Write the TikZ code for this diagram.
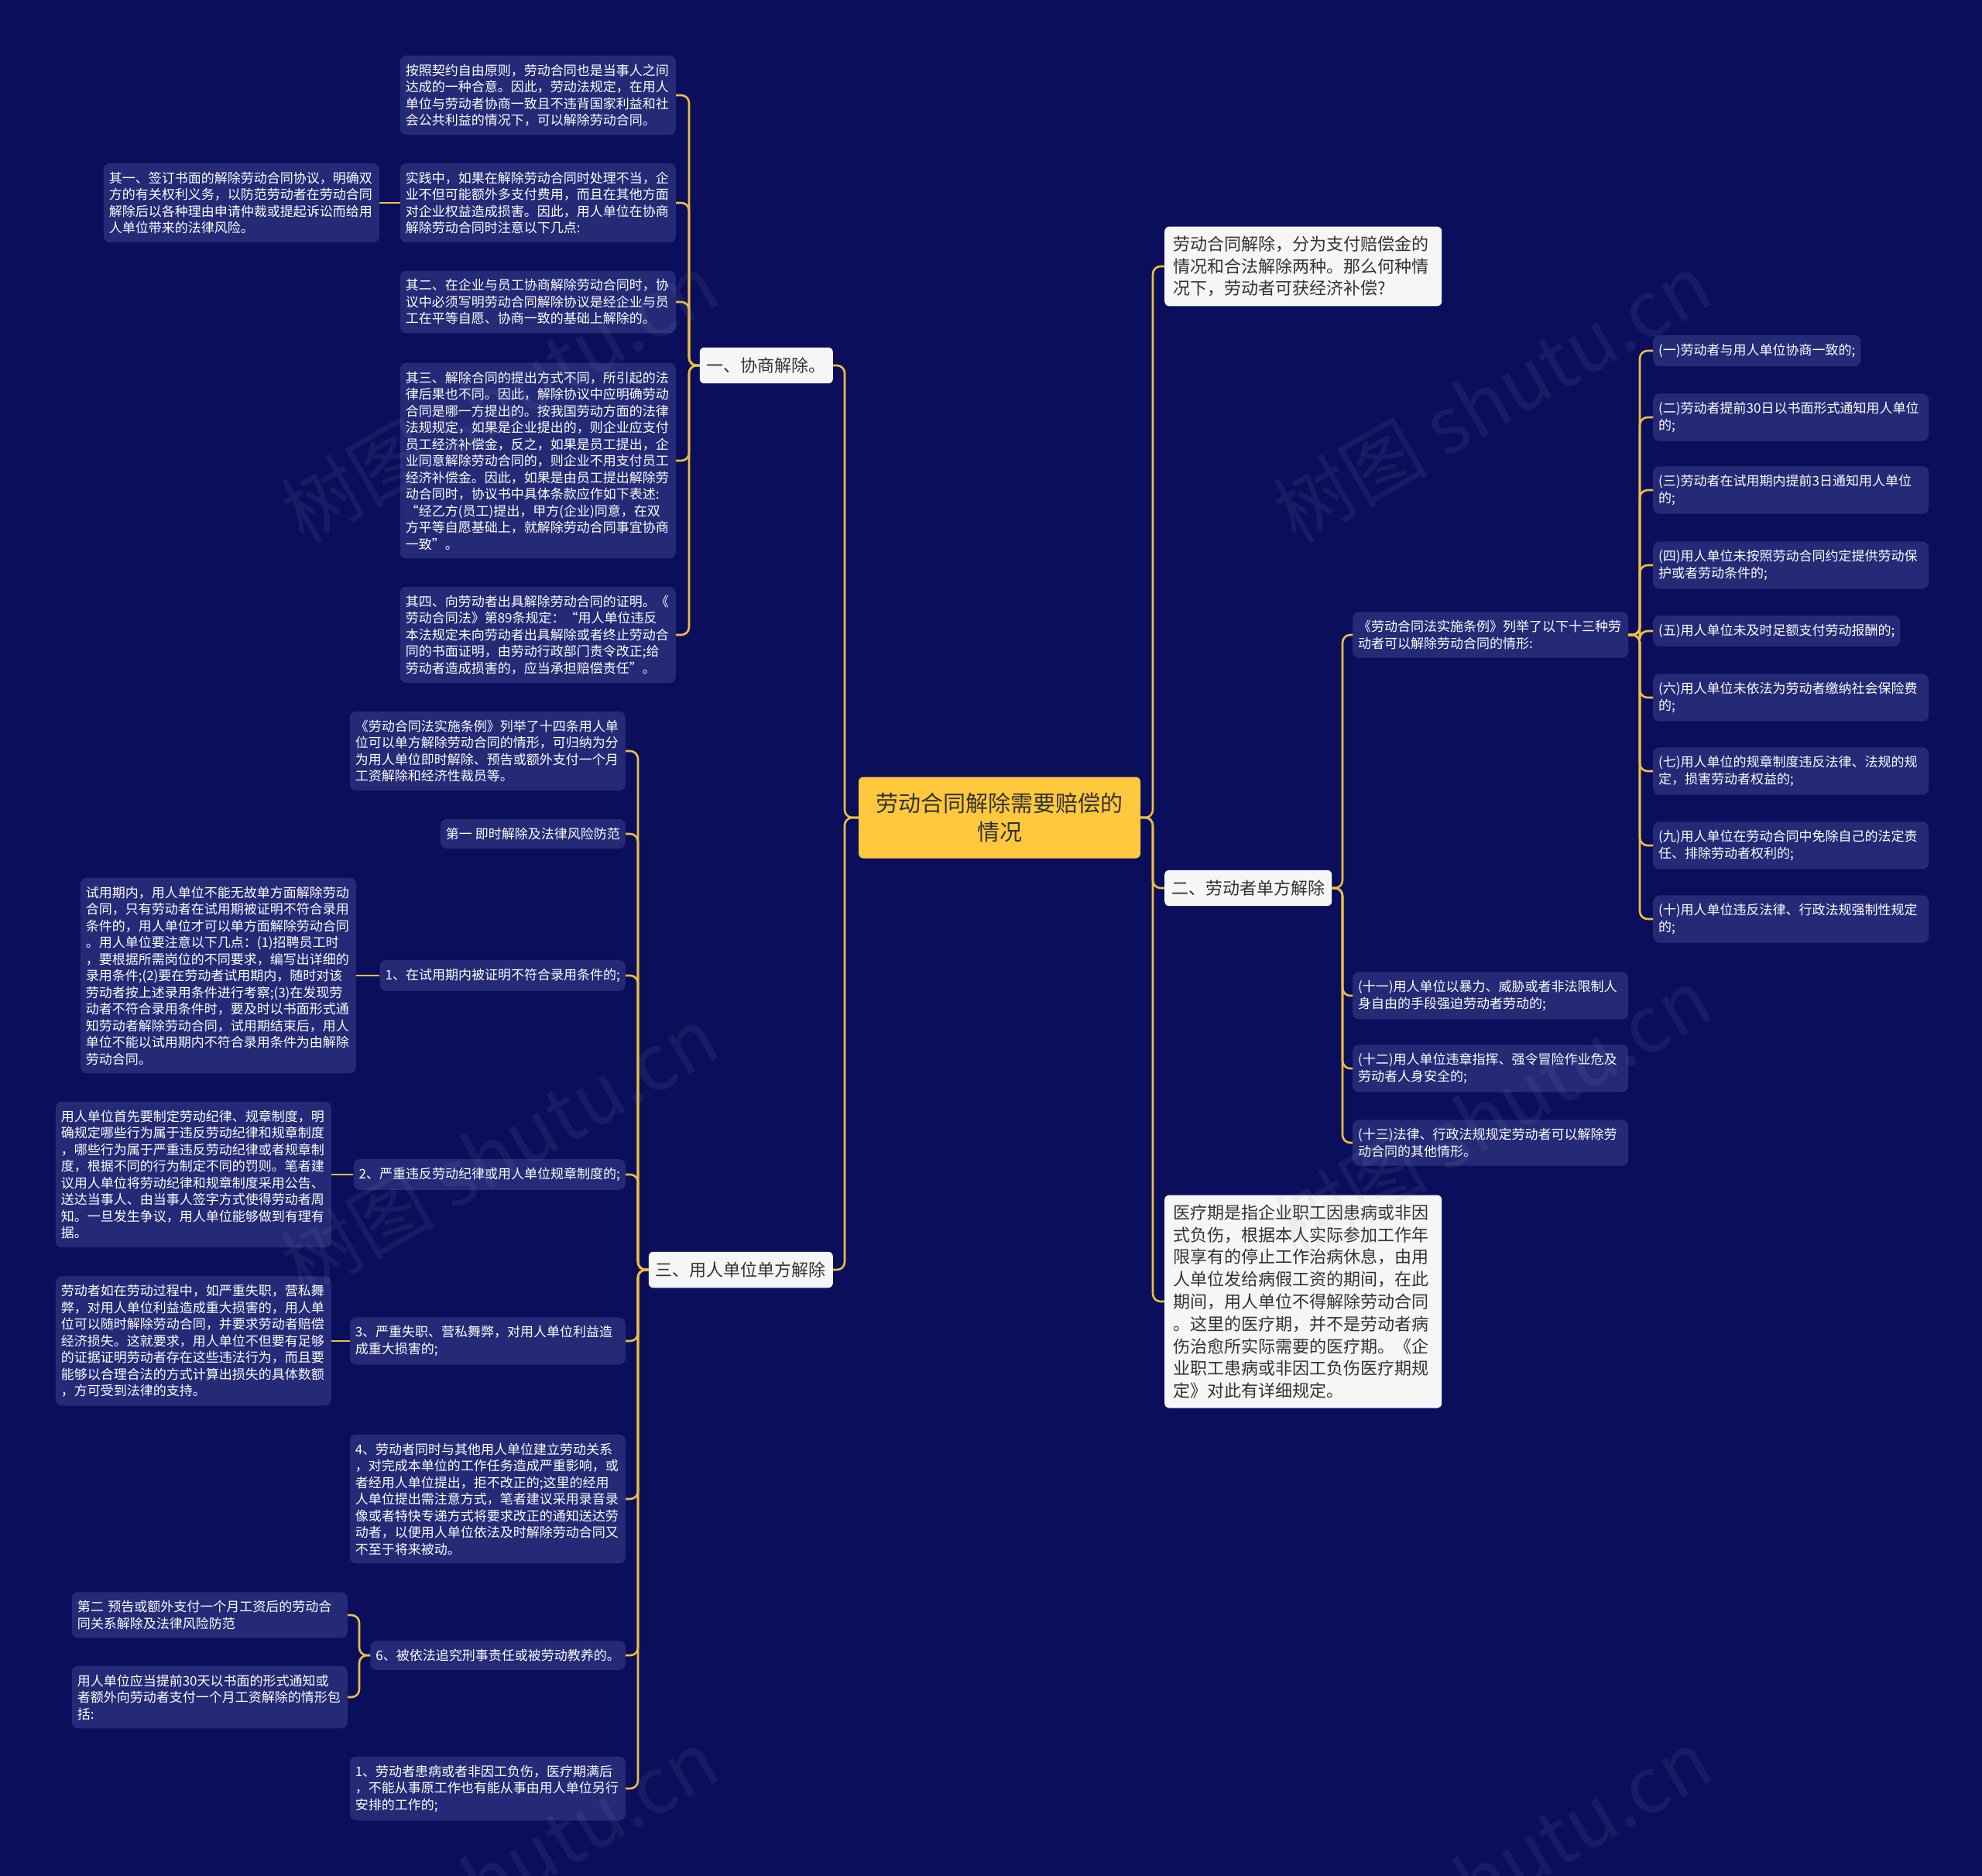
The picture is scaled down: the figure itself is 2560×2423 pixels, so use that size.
\documentclass[tikz,border=0pt]{standalone}
\usepackage{fontspec}
\setmainfont{Noto Sans CJK SC}
\definecolor{bg}{HTML}{0B0F5B}
\definecolor{boxc}{HTML}{242A76}
\definecolor{linec}{HTML}{EDBE45}
\definecolor{ctrc}{HTML}{FFC83D}
\definecolor{wbox}{HTML}{F6F6F6}
\definecolor{dtext}{HTML}{333333}
\definecolor{wmc}{HTML}{9098C0}
\tikzset{
  leaf/.style={rectangle, rounded corners=8bp, fill=boxc, text=white, font=\fontsize{17bp}{21.5bp}\selectfont, align=left, inner xsep=7bp, inner ysep=11bp},
  leafw/.style={leaf, text width=342bp},
  lvone/.style={rectangle, rounded corners=6bp, fill=wbox, text=dtext, font=\fontsize{22bp}{28.8bp}\selectfont, inner xsep=9bp, inner ysep=13bp},
  lvbig/.style={lvone, align=left, text width=336bp, inner xsep=11bp, inner ysep=12bp},
  ctrbox/.style={rectangle, rounded corners=6bp, fill=ctrc, text=dtext, font=\fontsize{29bp}{37bp}\selectfont, align=center, minimum width=364bp, minimum height=105bp},
  conn/.style={draw=linec, line width=2.6bp, rounded corners=10bp},
  wm/.style={text=wmc, opacity=0.10, font=\fontsize{100bp}{100bp}\selectfont, rotate=30},
}
\begin{document}
\begin{tikzpicture}[x=1bp,y=-1bp]
\useasboundingbox (0,0) rectangle (2560,2423);
\clip (0,0) rectangle (2560,2423);
\path[fill=bg] (0,0) rectangle (2560,2423);

% trunks
\coordinate (tCL) at (1091,0);
\coordinate (tCR) at (1489,0);
\coordinate (tXS) at (890,0);
\coordinate (tYR) at (824,0);
\coordinate (tLD) at (1734,0);
\coordinate (tTL) at (2118,0);
\coordinate (tS6) at (464,0);

% center
\node[ctrbox] (ctr) at (1291,1056) {劳动合同解除需要赔偿的\\情况};

% level 1 left
\node[lvone, anchor=east] (xs) at (1076,472) {一、协商解除。};
\node[lvone, anchor=east] (yr) at (1076,1640) {三、用人单位单方解除};

% level 1 right
\node[lvbig, anchor=west] (q) at (1504,344) {劳动合同解除，分为支付赔偿金的\\情况和合法解除两种。那么何种情\\况下，劳动者可获经济补偿?};
\node[lvone, anchor=west] (ld) at (1504,1147) {二、劳动者单方解除};
\node[lvbig, anchor=west] (yl) at (1504,1681) {医疗期是指企业职工因患病或非因\\式负伤，根据本人实际参加工作年\\限享有的停止工作治病休息，由用\\人单位发给病假工资的期间，在此\\期间，用人单位不得解除劳动合同\\。这里的医疗期，并不是劳动者病\\伤治愈所实际需要的医疗期。《企\\业职工患病或非因工负伤医疗期规\\定》对此有详细规定。};

% 协商解除 children
\node[leafw, anchor=east] (xa) at (873,123) {按照契约自由原则，劳动合同也是当事人之间\\达成的一种合意。因此，劳动法规定，在用人\\单位与劳动者协商一致且不违背国家利益和社\\会公共利益的情况下，可以解除劳动合同。};
\node[leafw, anchor=east] (xb) at (873,262) {实践中，如果在解除劳动合同时处理不当，企\\业不但可能额外多支付费用，而且在其他方面\\对企业权益造成损害。因此，用人单位在协商\\解除劳动合同时注意以下几点:};
\node[leafw, anchor=east] (xb1) at (490,262) {其一、签订书面的解除劳动合同协议，明确双\\方的有关权利义务，以防范劳动者在劳动合同\\解除后以各种理由申请仲裁或提起诉讼而给用\\人单位带来的法律风险。};
\node[leafw, anchor=east] (xc) at (873,390) {其二、在企业与员工协商解除劳动合同时，协\\议中必须写明劳动合同解除协议是经企业与员\\工在平等自愿、协商一致的基础上解除的。};
\node[leafw, anchor=east] (xd) at (873,595) {其三、解除合同的提出方式不同，所引起的法\\律后果也不同。因此，解除协议中应明确劳动\\合同是哪一方提出的。按我国劳动方面的法律\\法规规定，如果是企业提出的，则企业应支付\\员工经济补偿金，反之，如果是员工提出，企\\业同意解除劳动合同的，则企业不用支付员工\\经济补偿金。因此，如果是由员工提出解除劳\\动合同时，协议书中具体条款应作如下表述:\\“经乙方(员工)提出，甲方(企业)同意，在双\\方平等自愿基础上，就解除劳动合同事宜协商\\一致”。};
\node[leafw, anchor=east] (xe) at (873,820) {其四、向劳动者出具解除劳动合同的证明。《\\劳动合同法》第89条规定：“用人单位违反\\本法规定未向劳动者出具解除或者终止劳动合\\同的书面证明，由劳动行政部门责令改正;给\\劳动者造成损害的，应当承担赔偿责任”。};

% 用人单位单方解除 children
\node[leafw, anchor=east] (y1) at (808,970) {《劳动合同法实施条例》列举了十四条用人单\\位可以单方解除劳动合同的情形，可归纳为分\\为用人单位即时解除、预告或额外支付一个月\\工资解除和经济性裁员等。};
\node[leaf, anchor=east] (y2) at (808,1077) {第一 即时解除及法律风险防范};
\node[leaf, anchor=east] (y3) at (808,1260) {1、在试用期内被证明不符合录用条件的;};
\node[leafw, anchor=east] (y3a) at (460,1260) {试用期内，用人单位不能无故单方面解除劳动\\合同，只有劳动者在试用期被证明不符合录用\\条件的，用人单位才可以单方面解除劳动合同\\。用人单位要注意以下几点：(1)招聘员工时\\，要根据所需岗位的不同要求，编写出详细的\\录用条件;(2)要在劳动者试用期内，随时对该\\劳动者按上述录用条件进行考察;(3)在发现劳\\动者不符合录用条件时，要及时以书面形式通\\知劳动者解除劳动合同，试用期结束后，用人\\单位不能以试用期内不符合录用条件为由解除\\劳动合同。};
\node[leaf, anchor=east] (y4) at (808,1517) {2、严重违反劳动纪律或用人单位规章制度的;};
\node[leafw, anchor=east] (y4a) at (428,1517) {用人单位首先要制定劳动纪律、规章制度，明\\确规定哪些行为属于违反劳动纪律和规章制度\\，哪些行为属于严重违反劳动纪律或者规章制\\度，根据不同的行为制定不同的罚则。笔者建\\议用人单位将劳动纪律和规章制度采用公告、\\送达当事人、由当事人签字方式使得劳动者周\\知。一旦发生争议，用人单位能够做到有理有\\据。};
\node[leafw, anchor=east] (y5) at (808,1732) {3、严重失职、营私舞弊，对用人单位利益造\\成重大损害的;};
\node[leafw, anchor=east] (y5a) at (428,1732) {劳动者如在劳动过程中，如严重失职，营私舞\\弊，对用人单位利益造成重大损害的，用人单\\位可以随时解除劳动合同，并要求劳动者赔偿\\经济损失。这就要求，用人单位不但要有足够\\的证据证明劳动者存在这些违法行为，而且要\\能够以合理合法的方式计算出损失的具体数额\\，方可受到法律的支持。};
\node[leafw, anchor=east] (y6) at (808,1936) {4、劳动者同时与其他用人单位建立劳动关系\\，对完成本单位的工作任务造成严重影响，或\\者经用人单位提出，拒不改正的;这里的经用\\人单位提出需注意方式，笔者建议采用录音录\\像或者特快专递方式将要求改正的通知送达劳\\动者，以便用人单位依法及时解除劳动合同又\\不至于将来被动。};
\node[leaf, anchor=east] (y7) at (808,2138) {6、被依法追究刑事责任或被劳动教养的。};
\node[leafw, anchor=east] (y7a) at (449,2086) {第二 预告或额外支付一个月工资后的劳动合\\同关系解除及法律风险防范};
\node[leafw, anchor=east] (y7b) at (449,2192) {用人单位应当提前30天以书面的形式通知或\\者额外向劳动者支付一个月工资解除的情形包\\括:};
\node[leafw, anchor=east] (y8) at (808,2310) {1、劳动者患病或者非因工负伤，医疗期满后\\，不能从事原工作也有能从事由用人单位另行\\安排的工作的;};

% 劳动者单方解除 children
\node[leafw, anchor=west] (l0) at (1747,820) {《劳动合同法实施条例》列举了以下十三种劳\\动者可以解除劳动合同的情形:};
\node[leafw, anchor=west] (l11) at (1747,1286) {(十一)用人单位以暴力、威胁或者非法限制人\\身自由的手段强迫劳动者劳动的;};
\node[leafw, anchor=west] (l12) at (1747,1380) {(十二)用人单位违章指挥、强令冒险作业危及\\劳动者人身安全的;};
\node[leafw, anchor=west] (l13) at (1747,1476) {(十三)法律、行政法规规定劳动者可以解除劳\\动合同的其他情形。};

% 条例 children
\node[leaf, anchor=west] (r1) at (2135,453) {(一)劳动者与用人单位协商一致的;};
\node[leafw, anchor=west] (r2) at (2135,539) {(二)劳动者提前30日以书面形式通知用人单位\\的;};
\node[leafw, anchor=west] (r3) at (2135,633) {(三)劳动者在试用期内提前3日通知用人单位\\的;};
\node[leafw, anchor=west] (r4) at (2135,730) {(四)用人单位未按照劳动合同约定提供劳动保\\护或者劳动条件的;};
\node[leaf, anchor=west] (r5) at (2135,815) {(五)用人单位未及时足额支付劳动报酬的;};
\node[leafw, anchor=west] (r6) at (2135,901) {(六)用人单位未依法为劳动者缴纳社会保险费\\的;};
\node[leafw, anchor=west] (r7) at (2135,996) {(七)用人单位的规章制度违反法律、法规的规\\定，损害劳动者权益的;};
\node[leafw, anchor=west] (r9) at (2135,1092) {(九)用人单位在劳动合同中免除自己的法定责\\任、排除劳动者权利的;};
\node[leafw, anchor=west] (r10) at (2135,1187) {(十)用人单位违反法律、行政法规强制性规定\\的;};

% connectors: center
\foreach \c in {xs,yr} \draw[conn] (ctr.west) -- (ctr.west -| tCL) |- (\c.east);
\foreach \c in {q,ld,yl} \draw[conn] (ctr.east) -- (ctr.east -| tCR) |- (\c.west);
% 协商
\foreach \c in {xa,xb,xc,xd,xe} \draw[conn] (xs.west) -- (xs.west -| tXS) |- (\c.east);
\draw[conn] (xb.west) -- (xb1.east);
% 三
\foreach \c in {y1,y2,y3,y4,y5,y6,y7,y8} \draw[conn] (yr.west) -- (yr.west -| tYR) |- (\c.east);
\draw[conn] (y3.west) -- (y3a.east);
\draw[conn] (y4.west) -- (y4a.east);
\draw[conn] (y5.west) -- (y5a.east);
\foreach \c in {y7a,y7b} \draw[conn] (y7.west) -- (y7.west -| tS6) |- (\c.east);
% 二
\foreach \c in {l0,l11,l12,l13} \draw[conn] (ld.east) -- (ld.east -| tLD) |- (\c.west);
\foreach \c in {r1,r2,r3,r4,r5,r6,r7,r9,r10} \draw[conn] (l0.east) -- (l0.east -| tTL) |- (\c.west);

% watermarks
\node[wm] (w1) at (645,514) {树图 shutu.cn};
\node[wm] (w2) at (1927,514) {树图 shutu.cn};
\node[wm] (w3) at (645,1486) {树图 shutu.cn};
\node[wm] (w4) at (1927,1437) {树图 shutu.cn};
\node[wm] (w5) at (645,2420) {树图 shutu.cn};
\node[wm] (w6) at (1927,2420) {树图 shutu.cn};
\end{tikzpicture}
\end{document}
